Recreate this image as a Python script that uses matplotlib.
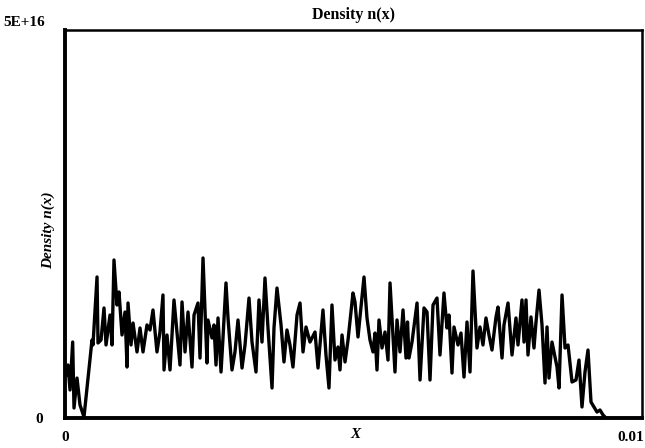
import matplotlib
matplotlib.use("Agg")
import matplotlib.pyplot as plt
import matplotlib.transforms as mtransforms

# Position x (in units of 1e-4) and density n(x) (in units of 1e16)
x_e4 = [0.017, 0.052, 0.087, 0.133, 0.156, 0.208, 0.260, 0.329, 0.468, 0.485,
        0.555, 0.572, 0.624, 0.676, 0.711, 0.780, 0.815, 0.849, 0.901, 0.936,
        0.988, 1.040, 1.075, 1.092, 1.144, 1.179, 1.248, 1.300, 1.352, 1.421,
        1.473, 1.525, 1.594, 1.646, 1.698, 1.716, 1.768, 1.820, 1.889, 1.993,
        2.028, 2.080, 2.132, 2.201, 2.236, 2.305, 2.340, 2.392, 2.461, 2.478,
        2.548, 2.582, 2.617, 2.652, 2.704, 2.738, 2.790, 2.825, 2.894, 2.946,
        2.998, 3.068, 3.120, 3.189, 3.241, 3.310, 3.362, 3.414, 3.466, 3.518,
        3.588, 3.622, 3.674, 3.744, 3.795, 3.847, 3.899, 3.951, 4.021, 4.073,
        4.125, 4.177, 4.246, 4.333, 4.385, 4.471, 4.523, 4.575, 4.627, 4.679,
        4.731, 4.766, 4.801, 4.853, 4.905, 4.991, 5.026, 5.078, 5.182, 5.234,
        5.286, 5.338, 5.373, 5.407, 5.442, 5.494, 5.546, 5.598, 5.633, 5.685,
        5.719, 5.754, 5.806, 5.858, 5.910, 5.936, 5.962, 6.014, 6.101, 6.153,
        6.222, 6.274, 6.326, 6.378, 6.447, 6.499, 6.568, 6.620, 6.655, 6.707,
        6.742, 6.811, 6.863, 6.915, 6.967, 7.019, 7.071, 7.140, 7.192, 7.244,
        7.296, 7.348, 7.400, 7.470, 7.504, 7.574, 7.608, 7.678, 7.747, 7.816,
        7.851, 7.920, 7.955, 7.990, 8.024, 8.076, 8.128, 8.163, 8.215, 8.267,
        8.319, 8.354, 8.388, 8.440, 8.492, 8.527, 8.562, 8.614, 8.666, 8.718,
        8.787, 8.856, 8.908, 8.960, 9.012, 9.064, 9.116, 9.168, 9.220, 9.272,
        9.324, 9.376]

n_e16 = [0.554, 0.683, 0.361, 0.979, 0.129, 0.515, 0.168, 0.013, 1.005, 0.941,
         1.817, 0.967, 1.005, 1.418, 0.941, 1.327, 0.941, 2.036, 1.456, 1.624,
         1.070, 1.366, 0.657, 1.482, 0.941, 1.224, 0.851, 1.160, 0.851, 1.199,
         1.134, 1.392, 0.851, 1.108, 1.585, 0.619, 1.070, 0.619, 1.521, 0.683,
         1.495, 0.851, 1.366, 0.657, 1.327, 1.482, 0.773, 2.062, 0.709, 1.263,
         1.031, 1.199, 0.683, 1.289, 0.593, 1.031, 1.740, 1.289, 0.619, 0.851,
         1.263, 0.644, 0.941, 1.546, 0.979, 0.593, 1.521, 0.979, 1.804, 1.160,
         0.387, 1.160, 1.675, 1.199, 0.722, 1.134, 0.941, 0.657, 1.327, 1.482,
         0.851, 1.173, 0.979, 1.108, 0.644, 1.392, 0.812, 0.387, 1.456, 0.747,
         0.915, 0.619, 1.070, 0.722, 1.005, 1.611, 1.495, 1.044, 1.817, 1.289,
         1.005, 0.851, 1.095, 0.619, 1.263, 0.902, 1.108, 0.747, 1.740, 1.031,
         0.593, 1.263, 0.851, 1.392, 0.773, 1.237, 0.773, 0.979, 1.482, 0.490,
         1.418, 1.366, 0.490, 1.456, 1.546, 0.812, 1.611, 1.160, 1.327, 0.580,
         1.173, 0.941, 1.095, 0.528, 1.237, 0.593, 1.894, 0.902, 1.173, 0.941,
         1.289, 1.070, 0.876, 1.302, 1.430, 0.773, 1.199, 1.482, 0.812, 1.289,
         0.941, 1.521, 0.979, 1.521, 0.812, 1.302, 0.902, 1.237, 1.649, 1.199,
         0.451, 1.173, 0.515, 0.979, 0.786, 0.657, 0.387, 1.585, 0.902, 0.941,
         0.464, 0.490, 0.747, 0.142, 0.593, 0.876, 0.206, 0.142, 0.077, 0.103,
         0.039, 0.000]

x_vals = [v * 1e-3 for v in x_e4]
n_vals = [v * 1e16 for v in n_e16]

x_limits = [0, 0.01]
y_limits = [0, 5e16]
x_tick_labels = ["0", "0.01"]
y_tick_labels = ["0", "5E+16"]

serif = "Liberation Serif"

fig = plt.figure(figsize=(6.45, 4.48), dpi=100)
ax = fig.add_axes([65 / 645, 1 - 418 / 448, 577 / 645, 388 / 448])

ax.plot(x_vals, n_vals, color="black", linewidth=2.4, solid_joinstyle="round")

ax.set_xlim(x_limits)
ax.set_ylim(y_limits)
ax.set_xticks(x_limits)
ax.set_yticks(y_limits)
ax.set_xticklabels(x_tick_labels, fontfamily=serif, fontweight="bold", fontsize=11)
ax.set_yticklabels(y_tick_labels, fontfamily=serif, fontweight="bold", fontsize=11)
ax.tick_params(axis="x", length=0, pad=9)
ax.tick_params(axis="y", length=0, pad=6)

# nudge tick labels like the reference
xl = ax.get_xticklabels()
xl[1].set_ha("right")
xl[1].set_transform(xl[1].get_transform() + mtransforms.ScaledTranslation(2 / 100, 0, fig.dpi_scale_trans))
yl = ax.get_yticklabels()
yl[1].set_transform(yl[1].get_transform() + mtransforms.ScaledTranslation(-12 / 100, 9 / 100, fig.dpi_scale_trans))
yl[0].set_transform(yl[0].get_transform() + mtransforms.ScaledTranslation(-14 / 100, 0, fig.dpi_scale_trans))

for side in ["left", "bottom"]:
    ax.spines[side].set_linewidth(2.8)
for side in ["right", "top"]:
    ax.spines[side].set_linewidth(1.8)

ax.set_title("Density n(x)", fontfamily=serif, fontweight="bold", fontsize=11.5, pad=8)
ax.set_xlabel("X", fontfamily=serif, fontweight="bold", fontstyle="italic", fontsize=11)
ax.xaxis.set_label_coords((355 - 65) / 577, -(428 - 418) / 388)
ax.set_ylabel("Density n(x)", fontfamily=serif, fontweight="bold", fontstyle="italic", fontsize=11)
ax.yaxis.set_label_coords(-(65 - 55) / 577, 0.5 - (230 - 224) / 388)

fig.savefig("out.png", dpi=100)
